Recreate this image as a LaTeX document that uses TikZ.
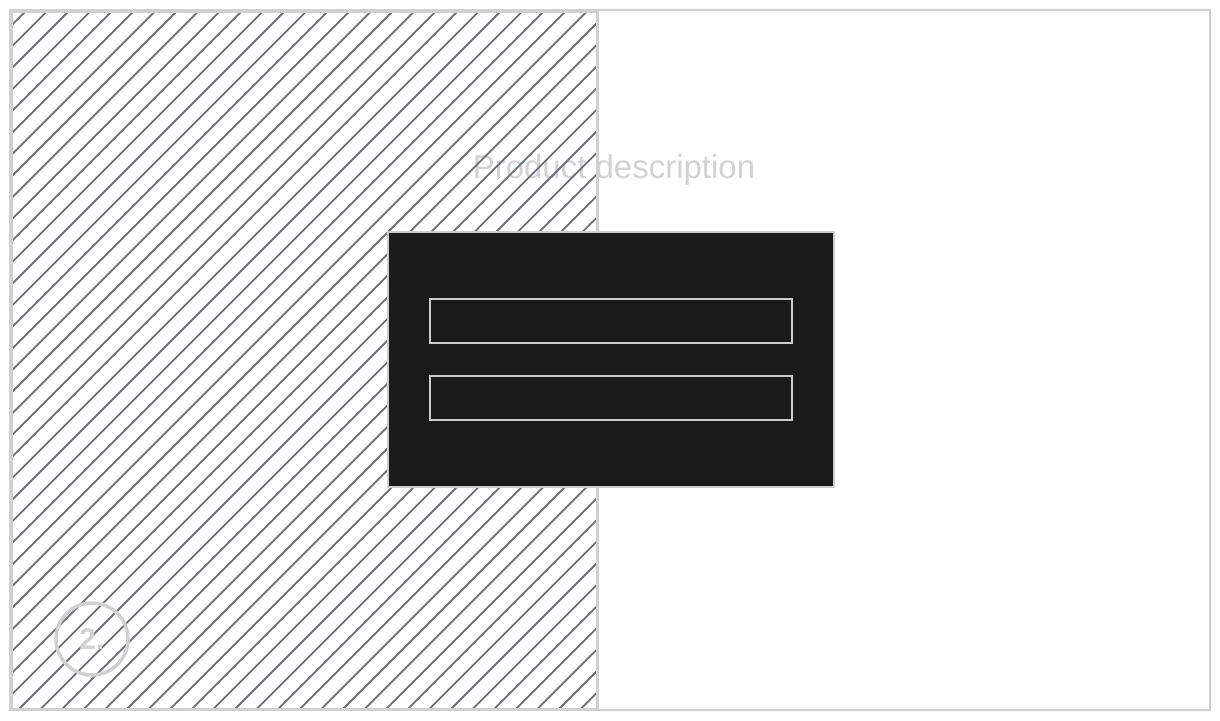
\documentclass[tikz,border=0pt]{standalone}
\usepackage{fontspec}
\setmainfont{Liberation Sans}
\definecolor{framegray}{HTML}{D0D0D0}
\definecolor{hatchgray}{HTML}{6A7078}
\definecolor{textgray}{HTML}{D2D2D2}
\definecolor{panel}{HTML}{1A1A1A}
\definecolor{panelline}{HTML}{CCCCCC}
\begin{document}
\begin{tikzpicture}[x=1pt,y=-1pt,
  frame/.style={draw=framegray,line width=1.5pt},
  hatchbox/.style={draw=framegray,line width=3pt},
  hatchline/.style={draw=hatchgray,line width=1.8pt},
  panelbox/.style={draw=panelline,fill=panel,line width=2pt},
  barbox/.style={draw=panelline,fill=panel,line width=2pt},
  label/.style={text=textgray,inner sep=0pt}]
\useasboundingbox (0,0) rectangle (1220,720);
\fill[white] (0,0) rectangle (1220,720);
% outer frame
\draw[frame] (10,10) rectangle (1210,710);
% label behind hatching
\node[label,font=\fontsize{33}{40}\selectfont] (title) at (614,170) {Product description};
% hatching
\begin{scope}
\clip (10,10) rectangle (598,710);
\foreach \k in {-40,...,30} {
  \draw[hatchline] ({18+21.6*\k},710) -- ({18+21.6*\k+720},-10);
}
\end{scope}
\draw[hatchbox] (11,11) rectangle (597,709);
% badge
\node[circle,draw=framegray,line width=3.5pt,minimum size=72pt,inner sep=0pt] (badge) at (92,639) {};
\node[label,font=\fontsize{30}{34}\selectfont\bfseries] (badgetext) at (badge.center) {2.};
% dark panel
\node[panelbox,minimum width=446pt,minimum height=255pt,inner sep=0pt] (panel) at (611,359.5) {};
\node[barbox,minimum width=362pt,minimum height=44pt,inner sep=0pt] (bar1) at (611,321) {};
\node[barbox,minimum width=362pt,minimum height=44pt,inner sep=0pt] (bar2) at (611,398) {};
\end{tikzpicture}
\end{document}
